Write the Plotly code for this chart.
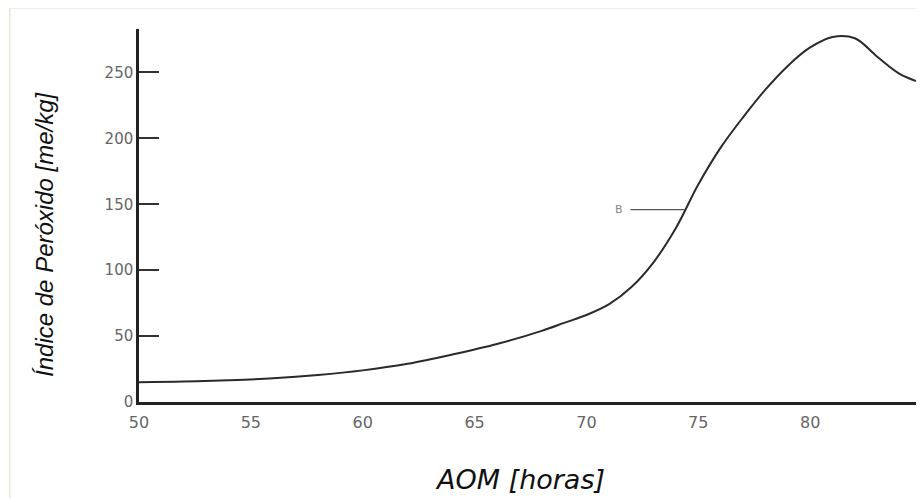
import plotly.graph_objects as go

aom_horas = [50, 52, 54, 56, 58, 60, 62, 64, 66, 68, 69, 70, 71, 72, 73, 74, 75,
             76, 77, 78, 79, 80, 81, 82, 83, 84, 85]
indice_peroxido = [15, 15.5, 16.5, 18, 20.5, 24, 29, 36, 44, 54, 60, 66, 74, 87, 106, 132,
                   165, 193, 216, 237, 255, 269, 277, 276, 262, 249, 242]
x_ticks = [50, 55, 60, 65, 70, 75, 80]
y_ticks = [0, 50, 100, 150, 200, 250]
label_b = "B"
label_b_x = 74.4
label_b_y = 146

fig = go.Figure()
fig.add_trace(go.Scatter(
    x=aom_horas, y=indice_peroxido, mode="lines",
    line=dict(color="#2a2a2a", width=2, shape="spline", smoothing=1.0),
    hoverinfo="skip", showlegend=False))

fig.add_annotation(x=label_b_x, y=label_b_y, xref="x", yref="y", text=label_b,
                   showarrow=True, ax=-66, ay=0, arrowhead=0, arrowwidth=1.2,
                   arrowcolor="#555", font=dict(size=11, color="#888",
                   family="DejaVu Sans"), standoff=0, startstandoff=6)

fig.add_annotation(x=-0.120, y=0.448, xref="paper", yref="paper",
                   xanchor="center", yanchor="middle",
                   text="<i>Índice de Peróxido [me/kg]</i>", textangle=-90,
                   showarrow=False, font=dict(size=24, color="#111",
                   family="Liberation Sans, Arial"))
fig.add_annotation(x=0.487, y=-0.209, xref="paper", yref="paper",
                   xanchor="center", yanchor="middle",
                   text="<i>AOM [horas]</i>", showarrow=False,
                   font=dict(size=27, color="#111", family="DejaVu Sans"))

# light frame like the scanned image border
fig.add_shape(type="rect", xref="paper", yref="paper", x0=-0.165, x1=1.2, y0=-0.5, y1=1.056,
              line=dict(color="#ebe7da", width=1.5), layer="below")

fig.update_layout(
    width=924, height=498,
    margin=dict(l=131, r=10, t=21, b=104),
    paper_bgcolor="white", plot_bgcolor="white",
    font=dict(family="DejaVu Sans", color="#666"),
    xaxis=dict(range=[50, 85], tickvals=x_ticks, ticktext=[str(v) for v in x_ticks],
               showgrid=False, zeroline=False, showline=True, linecolor="#222",
               linewidth=2.5, ticks="", ticklabelstandoff=4,
               tickfont=dict(size=16, color="#666", family="DejaVu Sans")),
    yaxis=dict(range=[0, 283], tickvals=y_ticks, ticktext=[str(v) for v in y_ticks],
               showgrid=False, zeroline=False, showline=True, linecolor="#222",
               linewidth=2.5, ticks="inside", ticklen=20, tickwidth=2,
               tickcolor="#333", tickfont=dict(size=15, color="#666", family="DejaVu Sans")),
)

fig.write_html("out.html")
